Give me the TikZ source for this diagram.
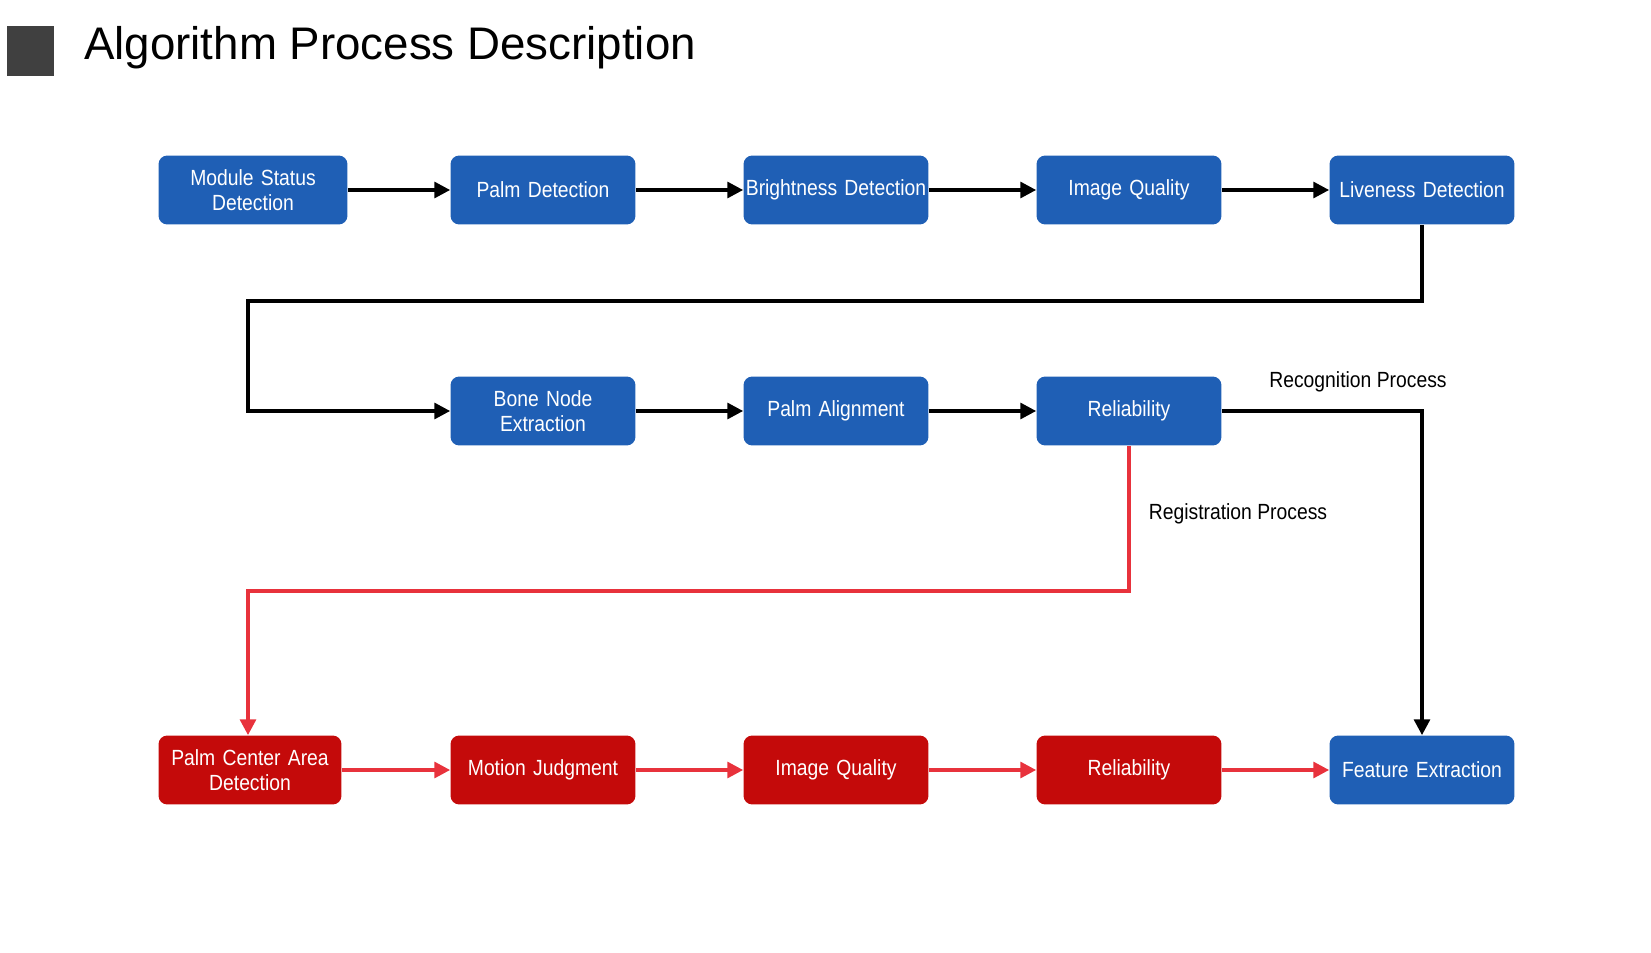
\documentclass[tikz,border=0pt]{standalone}
\usepackage{fontspec}
\setmainfont{Liberation Sans}
\newfontfamily\boxfont[FakeStretch=0.88]{Liberation Sans}
\usetikzlibrary{arrows.meta}
\definecolor{boxblue}{HTML}{1F5FB5}
\definecolor{boxred}{HTML}{C40A0A}
\definecolor{linered}{HTML}{E8323C}
\tikzset{
	procbox/.style={rounded corners=5pt, minimum width=3.7cm, minimum height=1.38cm, text width=3.7cm, align=center, inner xsep=0pt, text=white, font=\boxfont\fontsize{12.5}{14}\selectfont},
	bluebox/.style={procbox, fill=boxblue},
	redbox/.style={procbox, fill=boxred},
	blackarrow/.style={line width=2pt, -{Triangle[length=9pt, width=9pt]}},
	redarrow/.style={line width=2pt, linered, -{Triangle[length=9pt, width=9pt]}},
	flowlabel/.style={font=\boxfont\fontsize{12.5}{14}\selectfont}
}
\begin{document}
\begin{tikzpicture}[x=0.02cm, y=-0.02cm]
	\useasboundingbox (0, 0) rectangle (1651, 953);
	\fill[black!75](7, 26)rectangle(54, 76);
	\node[anchor=west, font=\fontsize{26}{30}\selectfont]at(78, 48){Algorithm Process Description};
	% first row
	\node[bluebox, minimum width=3.78cm](msd)at(253, 190){Module Status\\Detection};
	\node[bluebox](pd)at(543, 190){Palm Detection};
	\node[bluebox](bd)at(836, 190){Brightness Detection};
	\node[bluebox](iq)at(1129, 190){Image Quality};
	\node[bluebox](ld)at(1422, 190){Liveness Detection};
	% second row
	\node[bluebox](bne)at(543, 411){Bone Node\\Extraction};
	\node[bluebox](pa)at(836, 411){Palm Alignment};
	\node[bluebox](rel)at(1129, 411){Reliability};
	% third row
	\node[redbox, minimum width=3.66cm, text width=3.66cm](pcad)at(250, 770){Palm Center Area\\Detection};
	\node[redbox](mj)at(543, 770){Motion Judgment};
	\node[redbox](iqr)at(836, 770){Image Quality};
	\node[redbox](relr)at(1129, 770){Reliability};
	\node[bluebox](fe)at(1422, 770){Feature Extraction};
	\draw[blackarrow](msd)--(pd);
	\draw[blackarrow](pd)--(bd);
	\draw[blackarrow](bd)--(iq);
	\draw[blackarrow](iq)--(ld);
	\draw[blackarrow](ld.south)|-(248, 301)|-(bne.west);
	\draw[blackarrow](bne)--(pa);
	\draw[blackarrow](pa)--(rel);
	\draw[blackarrow](rel.east)-|(fe.north);
	\draw[redarrow](rel.south)|-(248, 591)--(pcad.north -| 248, 591);
	\draw[redarrow](pcad)--(mj);
	\draw[redarrow](mj)--(iqr);
	\draw[redarrow](iqr)--(relr);
	\draw[redarrow](relr)--(fe);
	\node[flowlabel]at(1358, 382){Recognition Process};
	\node[flowlabel]at(1238, 514){Registration Process};
\end{tikzpicture}
\end{document}
